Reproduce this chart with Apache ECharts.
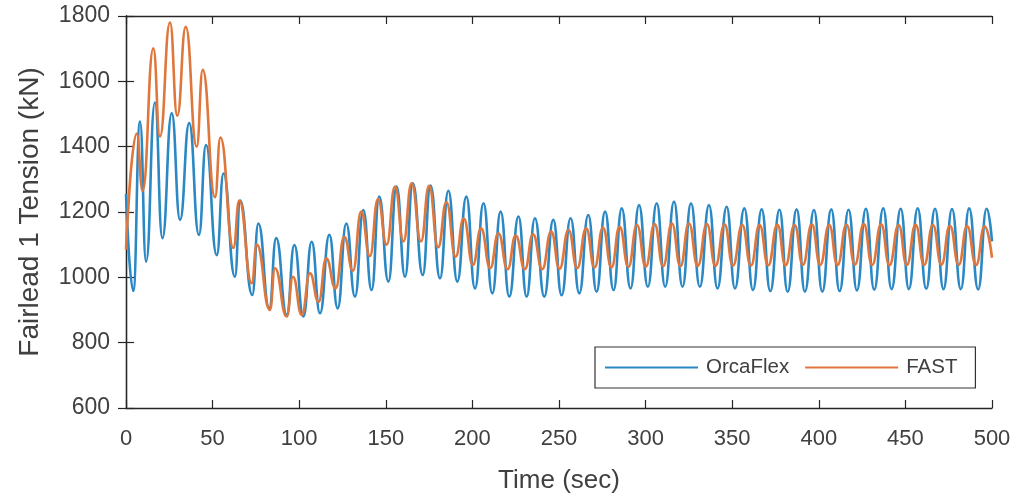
<!DOCTYPE html>
<html>
<head>
<meta charset="utf-8">
<script src="https://cdn.jsdelivr.net/npm/echarts@6/dist/echarts.min.js"></script>
<style>
html,body{margin:0;padding:0;background:#fff;}
#chart{width:1018px;height:502px;}
</style>
</head>
<body>
<div id="chart"></div>
<script>
// Tick labels
const xTicks = [0, 50, 100, 150, 200, 250, 300, 350, 400, 450, 500];
const yTicks = [600, 800, 1000, 1200, 1400, 1600, 1800];
const seriesNames = ['OrcaFlex', 'FAST'];

// OrcaFlex: times (s) and tension (kN) of the read extrema
const orcaTime = [0,
  4.2,8.1, 11.6,16.7, 21.0,26.4, 31.2,36.5, 42.1,46.2, 52.4,56.3, 62.9,65.9, 72.9,76.4, 82.7,86.7, 92.8,97.2,
  102.4,107.2, 112.0,117.4, 122.2,127.2, 132.2,137.0, 141.8,146.2, 151.5,156.2, 161.1,165.6, 171.3,175.8, 181.3,186.1, 191.3,196.5,
  201.5,206.4, 211.5,216.3, 221.3,226.6, 231.3,236.1, 241.5,246.7, 251.5,256.7, 261.7,266.9, 271.7,276.6, 281.5,286.2, 291.3,296.2,
  301.3,306.4, 311.3,316.4, 321.3,326.2, 331.3,336.6, 341.5,346.8, 351.6,357.0, 362.0,367.0, 372.0,377.3, 382.0,387.2, 392.0,397.2,
  402.0,407.2, 412.0,417.2, 422.0,427.2, 432.0,437.2, 442.0,447.3, 452.0,457.1, 462.0,467.1, 472.0,476.9, 482.0,486.8, 492.0,496.9,
  500];
const orcaTension = [1255,
  958,1477, 1048,1535, 1120,1502, 1176,1472, 1130,1405, 1068,1318, 1002,1235, 946,1165, 905,1120, 885,1099,
  880,1109, 890,1130, 905,1165, 941,1206, 961,1247, 987,1278, 1002,1288, 1007,1281, 997,1265, 987,1247,
  966,1227, 951,1201, 941,1186, 941,1181, 941,1176, 945,1181, 951,1191, 956,1201, 961,1211, 966,1221,
  971,1227, 971,1232, 971,1227, 971,1221, 966,1216, 966,1211, 961,1208, 958,1207, 956,1208, 956,1206,
  956,1208, 958,1207, 960,1210, 962,1211, 964,1210, 964,1211, 965,1210, 964,1209, 964,1211, 963,1210,
  1110];

// FAST: times (s) and tension (kN) of the read extrema
const fastTime = [0,
  6.2,9.6, 15.8,19.6, 25.4,29.6, 34.5,40.8, 44.3,51.4, 54.5,62.0, 65.4,72.6, 75.5,83.1, 86.0,92.8, 96.4,101.5,
  106.2,111.2, 115.6,121.0, 126.0,131.0, 135.8,140.8, 145.5,150.5, 155.3,160.2, 164.9,170.3, 175.0,180.2, 185.0,190.3, 195.0,200.3,
  205.0,210.3, 215.0,220.3, 225.0,230.3, 235.0,240.3, 245.5,250.3, 255.5,260.5, 265.7,270.5, 275.4,280.3, 285.0,290.1, 295.0,300.1,
  305.2,310.1, 315.2,320.1, 325.0,330.1, 335.4,340.3, 345.6,350.4, 355.8,360.8, 365.8,370.8, 376.1,380.8, 386.0,390.8, 396.0,400.8,
  406.0,410.8, 416.0,420.8, 426.0,430.8, 436.0,440.8, 446.1,450.8, 455.9,460.8, 465.9,470.8, 475.7,480.8, 485.6,490.8, 495.7,
  500];
const fastTension = [1085,
  1440,1265, 1701,1431, 1780,1495, 1767,1400, 1635,1245, 1428,1090, 1235,982, 1100,900, 1028,880, 1002,885,
  1012,925, 1058,966, 1124,1020, 1201,1065, 1240,1100, 1278,1110, 1288,1110, 1280,1092, 1230,1063, 1180,1038,
  1150,1028, 1135,1025, 1128,1025, 1132,1025, 1140,1026, 1145,1028, 1150,1030, 1152,1030, 1155,1032, 1160,1033,
  1163,1034, 1165,1034, 1165,1035, 1163,1035, 1162,1036, 1160,1036, 1160,1037, 1161,1037, 1160,1038, 1162,1038,
  1160,1038, 1161,1039, 1163,1038, 1162,1037, 1160,1038, 1161,1038, 1160,1039, 1158,1038, 1157,1038, 1156,
  1060];

const zip = (t, v) => t.map((x, i) => [x, v[i]]);

const axisColor = '#262626';
const textColor = '#404040';
const font = 'Liberation Sans, Arial, Helvetica, sans-serif';

const chart = echarts.init(document.getElementById('chart'), null, {renderer: 'canvas'});
chart.setOption({
  animation: false,
  backgroundColor: '#ffffff',
  grid: {left: 126, right: 26, top: 16, bottom: 94, containLabel: false},
  legend: {
    data: seriesNames,
    left: 595, top: 347,
    icon: 'rect',
    itemWidth: 93, itemHeight: 2,
    itemGap: 16,
    padding: [10, 18, 10, 10],
    borderColor: '#333333', borderWidth: 1.2,
    backgroundColor: '#ffffff',
    textStyle: {color: textColor, fontSize: 20.5, fontFamily: font, padding: [0, 0, 0, 3]}
  },
  xAxis: [{
    type: 'value', min: xTicks[0], max: xTicks[xTicks.length - 1], interval: 50,
    position: 'bottom',
    name: 'Time (sec)', nameLocation: 'middle', nameGap: 60,
    nameTextStyle: {color: textColor, fontSize: 26, fontFamily: font},
    axisLine: {lineStyle: {color: axisColor, width: 1.3}},
    axisTick: {inside: true, length: 8, lineStyle: {color: axisColor, width: 1.2}},
    axisLabel: {color: textColor, fontSize: 22, fontFamily: font, margin: 20},
    splitLine: {show: false}
  }, {
    type: 'value', min: xTicks[0], max: xTicks[xTicks.length - 1], interval: 50,
    position: 'top',
    axisLine: {lineStyle: {color: axisColor, width: 1.3}},
    axisTick: {inside: true, length: 8, lineStyle: {color: axisColor, width: 1.2}},
    axisLabel: {show: false},
    splitLine: {show: false}
  }],
  yAxis: [{
    type: 'value', min: yTicks[0], max: yTicks[yTicks.length - 1], interval: 200,
    position: 'left',
    name: 'Fairlead 1 Tension (kN)', nameLocation: 'middle', nameGap: 82, nameRotate: 90,
    nameTextStyle: {color: textColor, fontSize: 28, fontFamily: font},
    axisLine: {show: true, lineStyle: {color: axisColor, width: 1.3}},
    axisTick: {show: true, inside: true, length: 8, lineStyle: {color: axisColor, width: 1.2}},
    axisLabel: {color: textColor, fontSize: 23, fontFamily: font, margin: 16, formatter: v => String(v)},
    splitLine: {show: false}
  }, {
    type: 'value', min: yTicks[0], max: yTicks[yTicks.length - 1], interval: 200,
    position: 'right',
    axisLine: {show: true, lineStyle: {color: axisColor, width: 1.3}},
    axisTick: {show: true, inside: true, length: 8, lineStyle: {color: axisColor, width: 1.2}},
    axisLabel: {show: false},
    splitLine: {show: false}
  }],
  series: [{
    name: seriesNames[0], type: 'line', xAxisIndex: 0, yAxisIndex: 0,
    data: zip(orcaTime, orcaTension),
    smooth: 0.5, smoothMonotone: 'x', showSymbol: false, symbol: 'none', sampling: 'none',
    lineStyle: {color: '#2a88c4', width: 2.6},
    itemStyle: {color: '#2a88c4'},
    z: 2
  }, {
    name: seriesNames[1], type: 'line', xAxisIndex: 0, yAxisIndex: 0,
    data: zip(fastTime, fastTension),
    smooth: 0.5, smoothMonotone: 'x', showSymbol: false, symbol: 'none', sampling: 'none',
    lineStyle: {color: '#df773d', width: 2.6},
    itemStyle: {color: '#df773d'},
    z: 3
  }]
});
</script>
</body>
</html>
